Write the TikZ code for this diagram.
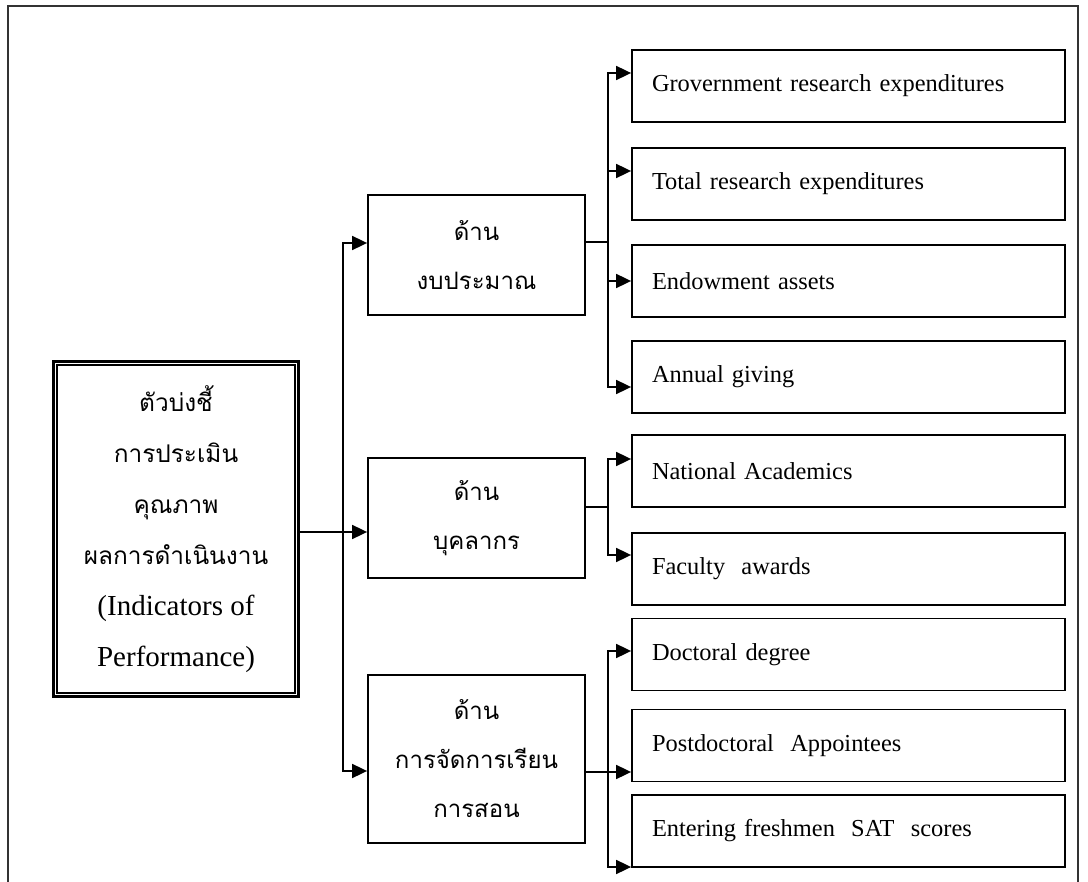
\documentclass[tikz,border=0pt]{standalone}
\usepackage{fontspec}
\setmainfont{Liberation Serif}
\newfontfamily\thaifont[Script=Thai]{Loma}
\usetikzlibrary{arrows.meta}

\newcommand\thailine[1]{{\thaifont\fontsize{12.2}{25.5}\selectfont #1}}

\tikzset{
  side/.style={draw, line width=0.9pt, minimum width=108.5pt, align=center,
    font=\thaifont\fontsize{12}{24.5}\selectfont},
  item/.style={draw, line width=0.9pt, minimum height=36pt, text width=196.5pt,
    inner xsep=10pt, align=left, font=\fontsize{12.2}{14}\selectfont},
  link/.style={line width=0.9pt},
  arr/.style={link, -{Triangle[length=7.5pt,width=7pt]}},
}

\begin{document}
\begin{tikzpicture}[x=0.5pt, y=-0.5pt]
  \useasboundingbox (0,0) rectangle (1088,882);
  % page frame, open at the bottom
  \draw[line width=1pt, black!80] (8,882) -- (8,6) -- (1078,6) -- (1078,882);

  % main box with double border
  \node[draw, line width=1.6pt, minimum width=122.5pt, minimum height=167.5pt,
        align=center, font=\fontsize{14.5}{25.5}\selectfont] (root) at (176,529)
    {\thailine{ตัวบ่งชี้}\\ \thailine{การประเมิน}\\ \thailine{คุณภาพ}\\
     \thailine{ผลการดำเนินงาน}\\ (Indicators of\\ Performance)};
  \draw[line width=1pt] ([shift={(2.6pt,-2.6pt)}]root.north west)
    rectangle ([shift={(-2.6pt,2.6pt)}]root.south east);

  % the three sides
  \node[side, minimum height=60pt] (side1) at (476.5,255) {ด้าน\\ งบประมาณ};
  \node[side, minimum height=60pt] (side2) at (476.5,518) {ด้าน\\ บุคลากร};
  \node[side, minimum height=84pt] (side3) at (476.5,759) {ด้าน\\ การจัดการเรียน\\ การสอน};

  % indicators
  \foreach \i/\y/\txt in {1/86/Grovernment research expenditures,
                          2/184/Total research expenditures,
                          3/281/Endowment assets,
                          4/377/Annual giving,
                          5/471/National Academics,
                          6/569/Faculty\ \ awards,
                          7/654.5/Doctoral degree,
                          8/745.5/Postdoctoral\ \ Appointees,
                          9/831/Entering freshmen\ \ SAT\ \ scores}
    \node[item] (item\i) at (848.5,\y) {\txt};

  % root to sides
  \coordinate (f0) at (343,532);
  \draw[arr] (root.east |- f0) -- (side2.west |- f0);
  \draw[arr] (f0) |- (side1.west |- 0,243);
  \draw[arr] (f0) |- (side3.west |- 0,771);

  % sides to indicators
  \coordinate (f1) at (608,242);
  \draw[link] (side1.east |- f1) -- (f1);
  \foreach \i/\y in {1/73, 2/171, 3/281, 4/387}
    \draw[arr] (f1) |- (item\i.west |- 0,\y);

  \coordinate (f2) at (608,507);
  \draw[link] (side2.east |- f2) -- (f2);
  \foreach \i/\y in {5/459, 6/555}
    \draw[arr] (f2) |- (item\i.west |- 0,\y);

  \coordinate (f3) at (608,772);
  \draw[arr] (side3.east |- f3) -- (item8.west |- f3);
  \foreach \i/\y in {7/651, 9/867}
    \draw[arr] (f3) |- (item\i.west |- 0,\y);
\end{tikzpicture}
\end{document}
